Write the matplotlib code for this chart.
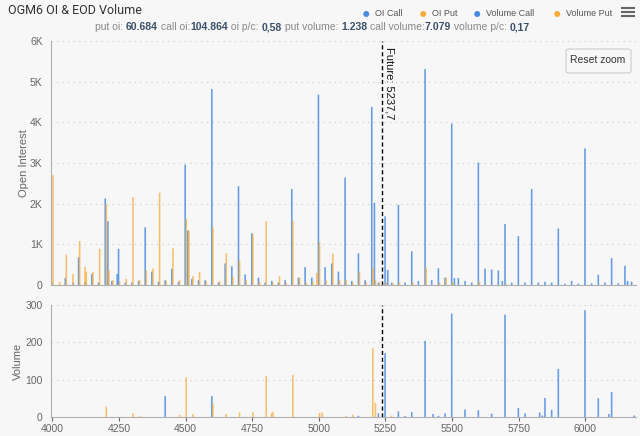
import matplotlib
matplotlib.use("Agg")
import matplotlib.pyplot as plt
from matplotlib.patches import FancyBboxPatch

plt.rcParams['font.family'] = ['Liberation Sans', 'DejaVu Sans']

# open interest, calls
oi_call_strikes = [4000, 4050, 4080, 4100, 4125, 4150, 4175, 4200, 4210, 4225, 4245, 4250, 4275, 4300,
                   4325, 4350, 4375, 4400, 4425, 4450, 4475, 4500, 4510, 4525, 4550, 4575, 4600, 4625,
                   4650, 4675, 4700, 4725, 4750, 4775, 4800, 4825, 4850, 4875, 4900, 4925, 4950, 4975,
                   5000, 5025, 5050, 5075, 5100, 5125, 5150, 5175, 5200, 5210, 5225, 5250, 5260, 5275,
                   5300, 5325, 5350, 5375, 5400, 5425, 5450, 5475, 5500, 5510, 5525, 5550, 5575, 5600,
                   5625, 5650, 5675, 5690, 5700, 5725, 5750, 5775, 5800, 5825, 5850, 5875, 5900, 5925,
                   5950, 5975, 6000, 6025, 6050, 6075, 6100, 6125, 6150, 6160, 6175]
oi_call = [60, 170, 60, 680, 80, 270, 60, 2130, 1570, 100, 270, 890, 60, 60,
           100, 1420, 330, 80, 120, 400, 80, 2960, 1340, 150, 120, 120, 4820, 60,
           530, 460, 2430, 260, 1270, 180, 60, 100, 60, 120, 2360, 180, 440, 180,
           4680, 440, 530, 330, 2640, 100, 780, 120, 4380, 2020, 60, 1690, 370, 60,
           1970, 60, 830, 100, 5310, 120, 410, 180, 3970, 170, 170, 100, 60, 3010,
           400, 380, 360, 100, 1500, 60, 1200, 60, 2360, 60, 80, 60, 1390, 30,
           100, 30, 3360, 40, 250, 60, 660, 40, 470, 100, 80]

# open interest, puts
oi_put_strikes = [4000, 4025, 4050, 4075, 4100, 4120, 4125, 4150, 4175, 4200, 4210, 4225, 4250, 4275,
                  4300, 4325, 4350, 4375, 4400, 4425, 4450, 4475, 4500, 4510, 4525, 4550, 4575, 4600,
                  4625, 4650, 4675, 4700, 4725, 4750, 4775, 4800, 4825, 4850, 4875, 4900, 4925, 4950,
                  4975, 4990, 5000, 5025, 5050, 5075, 5100, 5125, 5150, 5175, 5200, 5210, 5225, 5250,
                  5275, 5300, 5350, 5400, 5450, 5475, 5500, 5600, 5700]
oi_put = [2700, 80, 750, 270, 1080, 450, 330, 320, 890, 1980, 360, 120, 80, 150,
          2160, 120, 360, 410, 2270, 100, 900, 120, 1620, 1340, 220, 320, 100, 1420,
          100, 780, 200, 600, 120, 1250, 80, 1570, 60, 220, 60, 1570, 180, 60,
          80, 300, 1050, 100, 770, 120, 120, 60, 330, 80, 430, 120, 60, 60,
          40, 60, 60, 430, 60, 180, 60, 80, 30]

# EOD volume
vol_call_strikes = [4425, 4600, 5150, 5225, 5250, 5300, 5325, 5350, 5400, 5430, 5450, 5475, 5500,
                    5550, 5600, 5650, 5700, 5750, 5775, 5830, 5840, 5850, 5875, 5900, 6000, 6050,
                    6090, 6100, 6185]
vol_call = [56, 56, 3, 10, 171, 15, 3, 13, 204, 8, 3, 10, 277,
            20, 18, 9, 274, 24, 10, 12, 4, 51, 19, 129, 286, 50,
            8, 67, 4]
vol_put_strikes = [4200, 4300, 4325, 4475, 4500, 4525, 4600, 4650, 4700, 4750, 4800, 4820, 4825,
                   4900, 5000, 5010, 5100, 5125, 5200, 5210, 5270]
vol_put = [28, 10, 3, 6, 106, 8, 36, 8, 12, 13, 110, 10, 14,
           113, 11, 12, 3, 6, 184, 38, 4]

future = 5237.7
summary = [("put oi: ", False), ("60.684", True), (" call oi:", False), ("104.864", True),
           (" oi p/c: ", False), ("0,58", True), (" put volume: ", False), ("1.238", True),
           (" call volume:", False), ("7.079", True), (" volume p/c: ", False), ("0,17", True)]

blue = "#4a8be0"
orange = "#f7ad3c"
bg = "#f7f7f7"
grey = "#666666"

fig = plt.figure(figsize=(6.4, 4.36), dpi=100, facecolor=bg)
ax1 = fig.add_axes([51 / 640, 1 - 285 / 436, 585 / 640, 244 / 436], facecolor=bg)
ax2 = fig.add_axes([51 / 640, 1 - 417 / 436, 585 / 640, 112 / 436], facecolor=bg)

w = 6
ax1.bar([s - 1.5 for s in oi_call_strikes], oi_call, width=w, color=blue, alpha=0.85, linewidth=0, snap=False)
ax1.bar([s + 2.5 for s in oi_put_strikes], oi_put, width=w, color=orange, alpha=0.75, linewidth=0, snap=False)
ax2.bar([s - 1.5 for s in vol_call_strikes], vol_call, width=w, color=blue, alpha=0.85, linewidth=0, snap=False)
ax2.bar([s + 2.5 for s in vol_put_strikes], vol_put, width=w, color=orange, alpha=0.75, linewidth=0, snap=False)

for ax in (ax1, ax2):
    ax.set_xlim(3995, 6190)
    ax.axvline(future, color="black", linestyle=(0, (3, 2)), linewidth=1)
    for side in ("top", "right"):
        ax.spines[side].set_visible(False)
    ax.spines["left"].set_color("#b0b0b0")
    ax.spines["bottom"].set_color("#b0b0b0")
    ax.grid(axis="y", linestyle=(0, (1, 4)), color="#c8c8c8", linewidth=0.8)
    ax.set_axisbelow(True)
    ax.tick_params(axis="y", length=0, labelsize=7.5, colors=grey, pad=6)

ax1.set_ylim(0, 6000)
ax1.set_yticks([0, 1000, 2000, 3000, 4000, 5000, 6000])
ax1.set_yticklabels(["0", "1K", "2K", "3K", "4K", "5K", "6K"])
ax1.set_xticks([])
ax1.set_ylabel("Open Interest", fontsize=8, color=grey, labelpad=1)

ax2.set_ylim(0, 300)
ax2.set_yticks([0, 100, 200, 300])
ax2.set_xticks([4000, 4250, 4500, 4750, 5000, 5250, 5500, 5750, 6000])
ax2.tick_params(axis="x", length=3, labelsize=7.5, colors=grey, pad=2)
ax2.set_ylabel("Volume", fontsize=8, color=grey, labelpad=2)

ax1.text(future + 8, 5850, "Future: 5237,7", rotation=-90, fontsize=8, va="top", ha="left",
         color="#111111")

# title
fig.text(8 / 640, 1 - 10 / 436, "OGM6 OI & EOD Volume", fontsize=9, va="center", ha="left",
         color="#333333", family=['Roboto', 'DejaVu Sans'])

# summary line with bold values
fig.canvas.draw()
renderer = fig.canvas.get_renderer()
x = 95
for txt, bold in summary:
    t = fig.text(x / 640, 1 - 27 / 436, txt, fontsize=7.5, va="center", ha="left",
                 color="#3a5068" if bold else "#888888", fontweight="bold" if bold else "normal")
    bb = t.get_window_extent(renderer)
    x += bb.width

# legend
legend = [("OI Call", blue, 366), ("OI Put", orange, 423), ("Volume Call", blue, 477), ("Volume Put", orange, 557)]
for label, color, px in legend:
    fig.text(px / 640, 1 - 13.5 / 436, "\u25CF", fontsize=10, color=color, va="center", ha="center")
    fig.text((px + 9) / 640, 1 - 14 / 436, label, fontsize=6.5, color="#555555", va="center", ha="left")

# menu icon
for dy in (8, 12, 16):
    fig.add_artist(plt.Line2D([622 / 640, 634 / 640], [1 - dy / 436, 1 - dy / 436], color="#666666",
                              linewidth=1.5, transform=fig.transFigure))

# reset zoom button
btn = FancyBboxPatch((566 / 640, 1 - 73 / 436), 65 / 640, 24 / 436, boxstyle="round,pad=0,rounding_size=0.005",
                     transform=fig.transFigure, facecolor="#f7f7f7", edgecolor="#cccccc", linewidth=0.8)
fig.add_artist(btn)
fig.text(598 / 640, 1 - 60 / 436, "Reset zoom", fontsize=7.5, color="#333333", ha="center", va="center")

fig.savefig("out.png", dpi=100, facecolor=bg)
